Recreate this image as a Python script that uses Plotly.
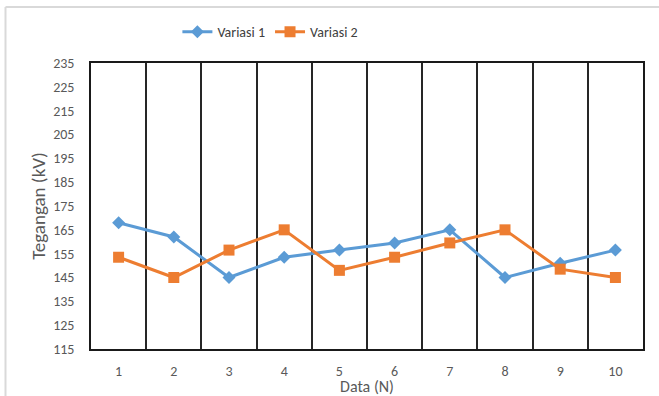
import plotly.graph_objects as go

# Measurement index and the two voltage series (kV)
data_n = [1, 2, 3, 4, 5, 6, 7, 8, 9, 10]
variasi_1 = [168, 162, 145, 153.5, 156.5, 159.5, 165, 145, 151, 156.5]
variasi_2 = [153.5, 145, 156.5, 165, 148, 153.5, 159.5, 165, 148.5, 145]
y_ticks = list(range(115, 236, 10))

FONT = "Carlito, Calibri, Lato, Liberation Sans, sans-serif"
GRAY = "#595959"

fig = go.Figure()
fig.add_trace(go.Scatter(
    x=data_n, y=variasi_1, name="Variasi 1", mode="lines+markers",
    line=dict(color="#5B9BD5", width=3),
    marker=dict(symbol="diamond", size=10, color="#5B9BD5"),
))
fig.add_trace(go.Scatter(
    x=data_n, y=variasi_2, name="Variasi 2", mode="lines+markers",
    line=dict(color="#ED7D31", width=3),
    marker=dict(symbol="square", size=11, color="#ED7D31"),
))

fig.update_layout(
    width=659, height=396,
    margin=dict(l=91, r=16, t=63, b=47, autoexpand=False),
    paper_bgcolor="white", plot_bgcolor="white",
    font=dict(family=FONT, color=GRAY, size=14),
    showlegend=True,
    legend=dict(orientation="h", x=0.325, y=1.108, xanchor="center", yanchor="middle",
                font=dict(size=14, color="#404040"), itemwidth=30,
                bgcolor="rgba(0,0,0,0)"),
    xaxis=dict(
        range=[0.5, 10.5], tickmode="array", tickvals=data_n,
        ticktext=[str(v) for v in data_n], automargin=False,
        tickfont=dict(size=14, color=GRAY),
        showgrid=False, zeroline=False,
        showline=True, mirror=True, linecolor="#1a1a1a", linewidth=1.5,
        ticks="outside", ticklen=0, ticklabelstandoff=8,
        minor=dict(tick0=0.5, dtick=1, showgrid=True, gridcolor="#262626", gridwidth=1.5),
        title=dict(text="Data (N)", font=dict(size=16, color=GRAY), standoff=1),
    ),
    yaxis=dict(
        range=[115, 235], tickmode="array", tickvals=y_ticks, automargin=False,
        tickfont=dict(size=14, color=GRAY),
        showgrid=False, zeroline=False,
        showline=True, mirror=True, linecolor="#1a1a1a", linewidth=1.5,
        ticks="outside", ticklen=0, ticklabelstandoff=12,
        title=dict(text="Tegangan (kV)", font=dict(size=19, color=GRAY), standoff=3),
    ),
)

# Light outer chart border (top and left edges)
border = dict(color="#D9D9D9", width=2)
fig.add_shape(type="line", xref="paper", yref="paper",
              x0=(5.5 - 91) / 552, x1=(700 - 91) / 552,
              y0=(349 - 7) / 286, y1=(349 - 7) / 286, line=border)
fig.add_shape(type="line", xref="paper", yref="paper",
              x0=(5.5 - 91) / 552, x1=(5.5 - 91) / 552,
              y0=(349 - 7) / 286, y1=(349 - 420) / 286, line=border)

fig.write_html("out.html")
